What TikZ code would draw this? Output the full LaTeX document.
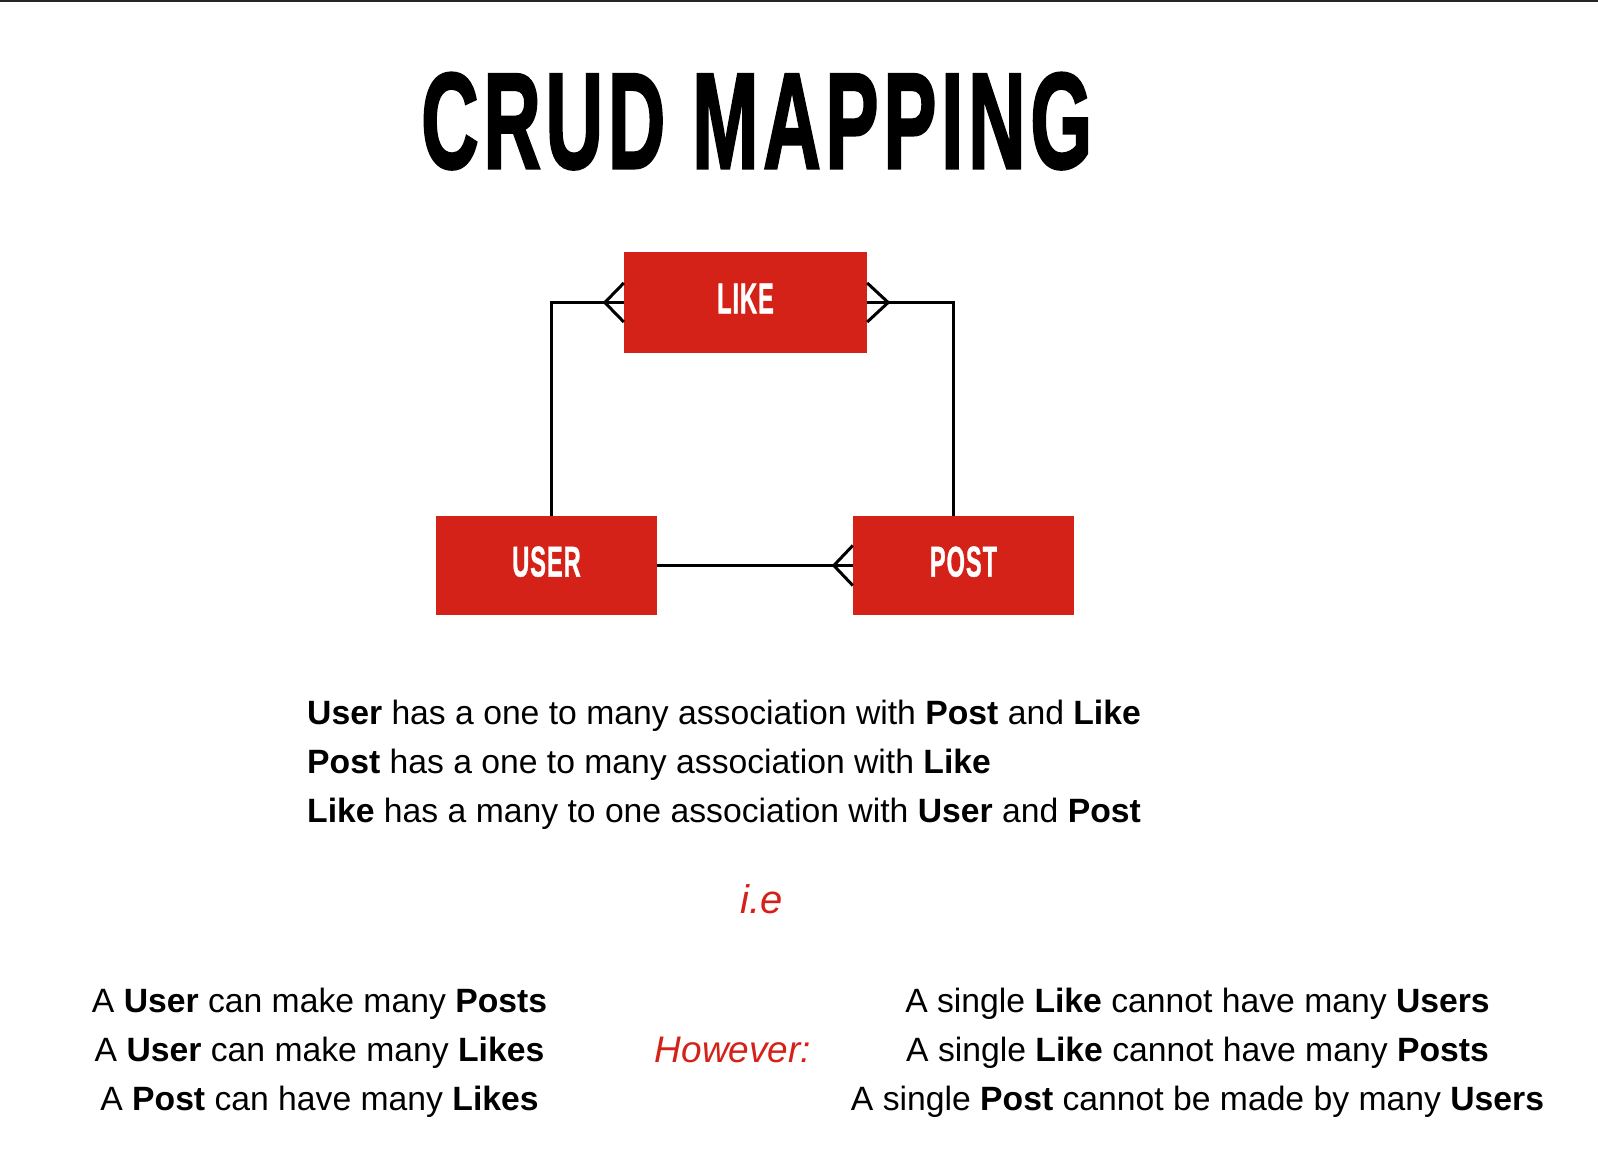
\documentclass[tikz,border=0pt]{standalone}
\usepackage{fontspec}
\usepackage{graphicx}
\setmainfont{Liberation Sans}
\newfontfamily\heavyfont[FakeBold=2.2, LetterSpace=6]{Liberation Sans}
\newfontfamily\labelfont[FakeBold=1.2, LetterSpace=4]{Liberation Sans}
\definecolor{crudred}{RGB}{213,34,24}
\definecolor{toprule}{RGB}{38,38,38}
\newcommand\boxlabel[1]{\raisebox{8pt}{\scalebox{0.55}[1]{\labelfont\fontsize{43}{43}\selectfont\bfseries #1}}}
\tikzset{
  erbox/.style={fill=crudred, text=white, inner sep=0pt, anchor=center},
  link/.style={line width=3pt, black, line join=miter},
  body/.style={inner sep=0pt, font=\fontsize{33.7}{40}\selectfont},
  redtext/.style={inner sep=0pt, text=crudred},
}
\begin{document}
\begin{tikzpicture}[x=1pt, y=-1pt]
\useasboundingbox (0,0) rectangle (1598,1166);
\fill[white] (0,0) rectangle (1598,1166);
\fill[toprule] (0,0) rectangle (1598,2);

% title
\node[anchor=base west, inner sep=0pt] (title) at (421,168)
  {\resizebox{671pt}{95pt}{\heavyfont\bfseries CRUD MAPPING}};

% entities
\node[erbox, minimum width=243pt, minimum height=101pt] (like) at (745.5,302.5) {\boxlabel{LIKE}};
\node[erbox, minimum width=221pt, minimum height=99pt] (user) at (546.5,565.5) {\boxlabel{USER}};
\node[erbox, minimum width=221pt, minimum height=99pt] (post) at (963.5,565.5) {\boxlabel{POST}};

% connectors
\draw[link] (like.west) -| ([xshift=4.5pt]user.north);
\draw[link] (like.east) -| ([xshift=-10.5pt]post.north);
\draw[link] (user.east) -- (post.west);
% crow's feet
\draw[link] ([yshift=19.5pt]like.west) -- ++(-19,19.5) -- ++(19,19.5);
\draw[link] ([yshift=19.5pt]like.east) -- ++(21,19.5) -- ++(-21,19.5);
\draw[link] ([yshift=20pt]post.west) -- ++(-19,20) -- ++(19,20);

% description
\node[body, anchor=base west] (d1) at (307,724) {\textbf{User} has a one to many association with \textbf{Post} and \textbf{Like}};
\node[body, anchor=base west] (d2) at (307,773) {\textbf{Post} has a one to many association with \textbf{Like}};
\node[body, anchor=base west] (d3) at (307,822) {\textbf{Like} has a many to one association with \textbf{User} and \textbf{Post}};

\node[redtext, anchor=base, font=\fontsize{40}{48}\selectfont\itshape] (ie) at (762,913) {i.e};

\node[body, anchor=base] (l1) at (319.5,1012) {A \textbf{User} can make many \textbf{Posts}};
\node[body, anchor=base] (l2) at (319.5,1061) {A \textbf{User} can make many \textbf{Likes}};
\node[body, anchor=base] (l3) at (319.5,1110) {A \textbf{Post} can have many \textbf{Likes}};

\node[redtext, anchor=base, font=\fontsize{37}{44}\selectfont\itshape] (however) at (733,1062) {However:};

\node[body, anchor=base] (r1) at (1197.5,1012) {A single \textbf{Like} cannot have many \textbf{Users}};
\node[body, anchor=base] (r2) at (1197.5,1061) {A single \textbf{Like} cannot have many \textbf{Posts}};
\node[body, anchor=base] (r3) at (1197.5,1110) {A single \textbf{Post} cannot be made by many \textbf{Users}};
\end{tikzpicture}
\end{document}
